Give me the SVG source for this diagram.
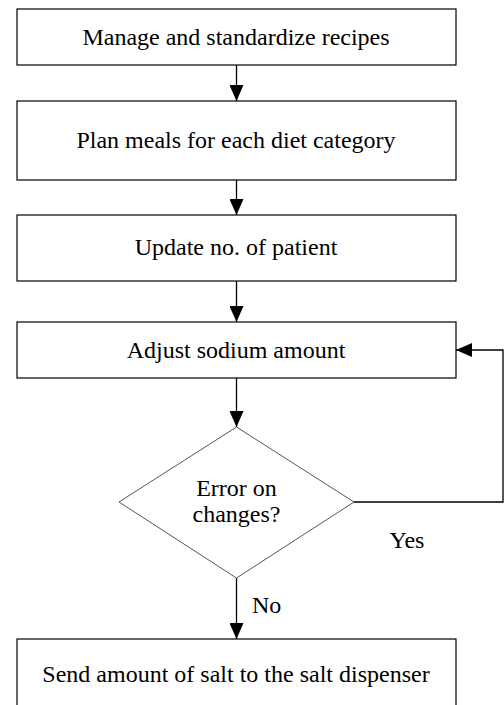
<svg xmlns="http://www.w3.org/2000/svg" width="504" height="705" viewBox="0 0 504 705">
<defs>
<style>
.box{fill:#fff;stroke:#000;stroke-width:1.2}
.dia{fill:#fff;stroke:#555;stroke-width:1}
.t{font-size:24px;fill:#000;text-anchor:middle}
.c{fill:none;stroke:#000;stroke-width:1.3}
</style>
<marker id="ah" markerUnits="userSpaceOnUse" markerWidth="16" markerHeight="14" refX="16" refY="7" orient="auto" viewBox="0 0 16 14">
<path d="M0,0 L16,7 L0,14 z" fill="#000"/>
</marker>
</defs>
<rect width="504" height="705" fill="#fff"/>
<g font-family="Liberation Serif, DejaVu Serif, serif">
<g id="n1"><rect class="box" x="17" y="9" width="439" height="56"/><text class="t" x="236" y="45">Manage and standardize recipes</text></g>
<g id="n2"><rect class="box" x="17" y="101" width="439" height="79"/><text class="t" x="236" y="148">Plan meals for each diet category</text></g>
<g id="n3"><rect class="box" x="17" y="215" width="439" height="66"/><text class="t" x="236" y="255">Update no. of patient</text></g>
<g id="n4"><rect class="box" x="17" y="322" width="439" height="56"/><text class="t" x="236" y="358">Adjust sodium amount</text></g>
<g id="n5"><polygon class="dia" points="236.5,427 354,502 236.5,578 119,502"/><text class="t" x="236.5" y="496">Error on</text><text class="t" x="236.5" y="522">changes?</text></g>
<g id="n6"><rect class="box" x="17" y="639" width="439" height="80"/><text class="t" x="236" y="682">Send amount of salt to the salt dispenser</text></g>
<g id="connectors">
<line class="c" x1="236.5" y1="65" x2="236.5" y2="101" marker-end="url(#ah)"/>
<line class="c" x1="236.5" y1="180" x2="236.5" y2="215" marker-end="url(#ah)"/>
<line class="c" x1="236.5" y1="281" x2="236.5" y2="322" marker-end="url(#ah)"/>
<line class="c" x1="236.5" y1="378" x2="236.5" y2="427" marker-end="url(#ah)"/>
<line class="c" x1="236.5" y1="578" x2="236.5" y2="639" marker-end="url(#ah)"/>
<polyline class="c" points="354,502 503,502 503,350 456,350" marker-end="url(#ah)"/>
<text class="t" x="407" y="548">Yes</text>
<text class="t" x="252" y="613" style="text-anchor:start">No</text>
</g>
</g>
</svg>
